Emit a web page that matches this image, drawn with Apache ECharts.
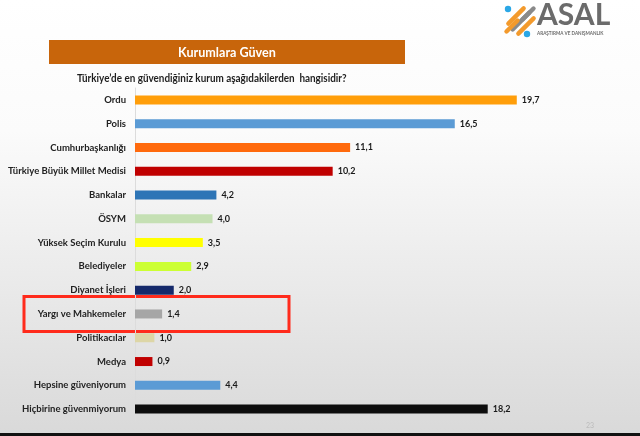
<!DOCTYPE html>
<html>
<head>
<meta charset="utf-8">
<script src="https://cdn.jsdelivr.net/npm/echarts@6/dist/echarts.min.js"></script>
<style>
html,body{margin:0;padding:0;background:#fff;}
#c{width:640px;height:436px;}
</style>
</head>
<body>
<div id="c"></div>
<script>
const categories = [
  'Ordu','Polis','Cumhurbaşkanlığı','Türkiye Büyük Millet Medisi','Bankalar','ÖSYM',
  'Yüksek Seçim Kurulu','Belediyeler','Diyanet İşleri','Yargı ve Mahkemeler',
  'Politikacılar','Medya','Hepsine güveniyorum','Hiçbirine güvenmiyorum'
];
const values = [19.7,16.5,11.1,10.2,4.2,4.0,3.5,2.9,2.0,1.4,1.0,0.9,4.4,18.2];
const barColors = [
  '#FF9E0A','#5B9BD5','#FF6A0D','#C00000','#2E75B6','#C5E0B4',
  '#FFFF00','#CCFF33','#15296A','#A6A6A6','#DDD6A6','#C00000','#5B9BD5','#0D0D0D'
];
const titleText = 'Kurumlara Güven';
const questionText = 'Türkiye’de en güvendiğiniz kurum aşağıdakilerden  hangisidir?';
const highlighted = 'Yargı ve Mahkemeler';
const pageNumber = '23';

const FONT = 'Lato';
const chart = echarts.init(document.getElementById('c'));

const option = {
  backgroundColor: {
    type: 'linear', x: 0, y: 0, x2: 0, y2: 1,
    colorStops: [
      {offset: 0, color: '#ffffff'},
      {offset: 0.3, color: '#fbfbfb'},
      {offset: 1, color: '#d9d9d9'}
    ]
  },
  animation: false,
  grid: {left: 135, right: 20.5, top: 88, bottom: 15, containLabel: false},
  xAxis: {type: 'value', min: 0, max: 25, show: false},
  yAxis: {
    type: 'category', data: categories, inverse: true,
    axisLine: {show: true, lineStyle: {color: '#dcdcdc', width: 1}},
    axisTick: {show: false},
    axisLabel: {fontFamily: FONT, fontWeight: 'bold', fontSize: 9.5, color: '#222222', margin: 9}
  },
  series: [{
    type: 'bar',
    barWidth: 9,
    data: values.map((v, i) => ({value: v, itemStyle: {color: barColors[i]}})),
    label: {
      show: true, position: 'right', distance: 5,
      fontFamily: FONT, fontWeight: 'bold', fontSize: 9, color: '#1a1a1a',
      formatter: p => p.value.toFixed(1).replace('.', ',')
    }
  }]
};
chart.setOption(option);

const yMid = chart.convertToPixel({yAxisIndex: 0}, highlighted);

chart.setOption({
  graphic: [
    {type: 'rect', shape: {x: 49, y: 40, width: 356, height: 24}, style: {fill: '#C8650B'}},
    {type: 'text', x: 227, y: 52, scaleX: 0.9, style: {text: titleText, fill: '#ffffff', font: 'bold 14px ' + FONT, textAlign: 'center', textVerticalAlign: 'middle'}},
    {type: 'text', x: 77, y: 78, scaleX: 0.9, style: {text: questionText, fill: '#1f1f1f', font: 'bold 11px ' + FONT, textVerticalAlign: 'middle'}},
    {type: 'rect', shape: {x: 24, y: yMid - 17.5, width: 265, height: 35}, style: {fill: 'none', stroke: '#FF2B1C', lineWidth: 3}},
    {type: 'text', x: 590, y: 426, style: {text: pageNumber, fill: '#bcbcbc', font: '7px ' + FONT, textAlign: 'center', textVerticalAlign: 'middle'}},
    {type: 'rect', shape: {x: 0, y: 433, width: 640, height: 3}, style: {fill: '#111111'}},
    // logo
    {type: 'group', children: [
      {type: 'rect', shape: {x: -13, y: -2.2, width: 26, height: 4.4, r: 2.2}, x: 516, y: 16, rotation: Math.PI/4, style: {fill: '#F39A2C'}},
      {type: 'rect', shape: {x: -14, y: -2.2, width: 28, height: 4.4, r: 2.2}, x: 521, y: 21, rotation: Math.PI/4, style: {fill: '#8a8a8a'}},
      {type: 'rect', shape: {x: -13, y: -2.2, width: 26, height: 4.4, r: 2.2}, x: 526, y: 26, rotation: Math.PI/4, style: {fill: '#F39A2C'}},
      {type: 'rect', shape: {x: -10, y: -2.2, width: 20, height: 4.4, r: 2.2}, x: 512, y: 26, rotation: Math.PI/4, style: {fill: '#F39A2C'}},
      {type: 'rect', shape: {x: -10, y: -2.2, width: 20, height: 4.4, r: 2.2}, x: 528, y: 14, rotation: Math.PI/4, style: {fill: '#8a8a8a'}},
      {type: 'circle', shape: {cx: 508, cy: 9, r: 3.2}, style: {fill: '#2AA7E6'}},
      {type: 'circle', shape: {cx: 527, cy: 34, r: 3.2}, style: {fill: '#2AA7E6'}},
      {type: 'text', x: 537, y: 30, style: {text: 'ASAL', fill: '#6b6b6b', font: 'bold 30px ' + FONT, textVerticalAlign: 'bottom'}},
      {type: 'text', x: 537, y: 34, style: {text: 'ARAŞTIRMA VE DANIŞMANLIK', fill: '#6b6b6b', font: 'bold 4.6px ' + FONT, textVerticalAlign: 'middle'}}
    ]}
  ]
});
</script>
</body>
</html>
